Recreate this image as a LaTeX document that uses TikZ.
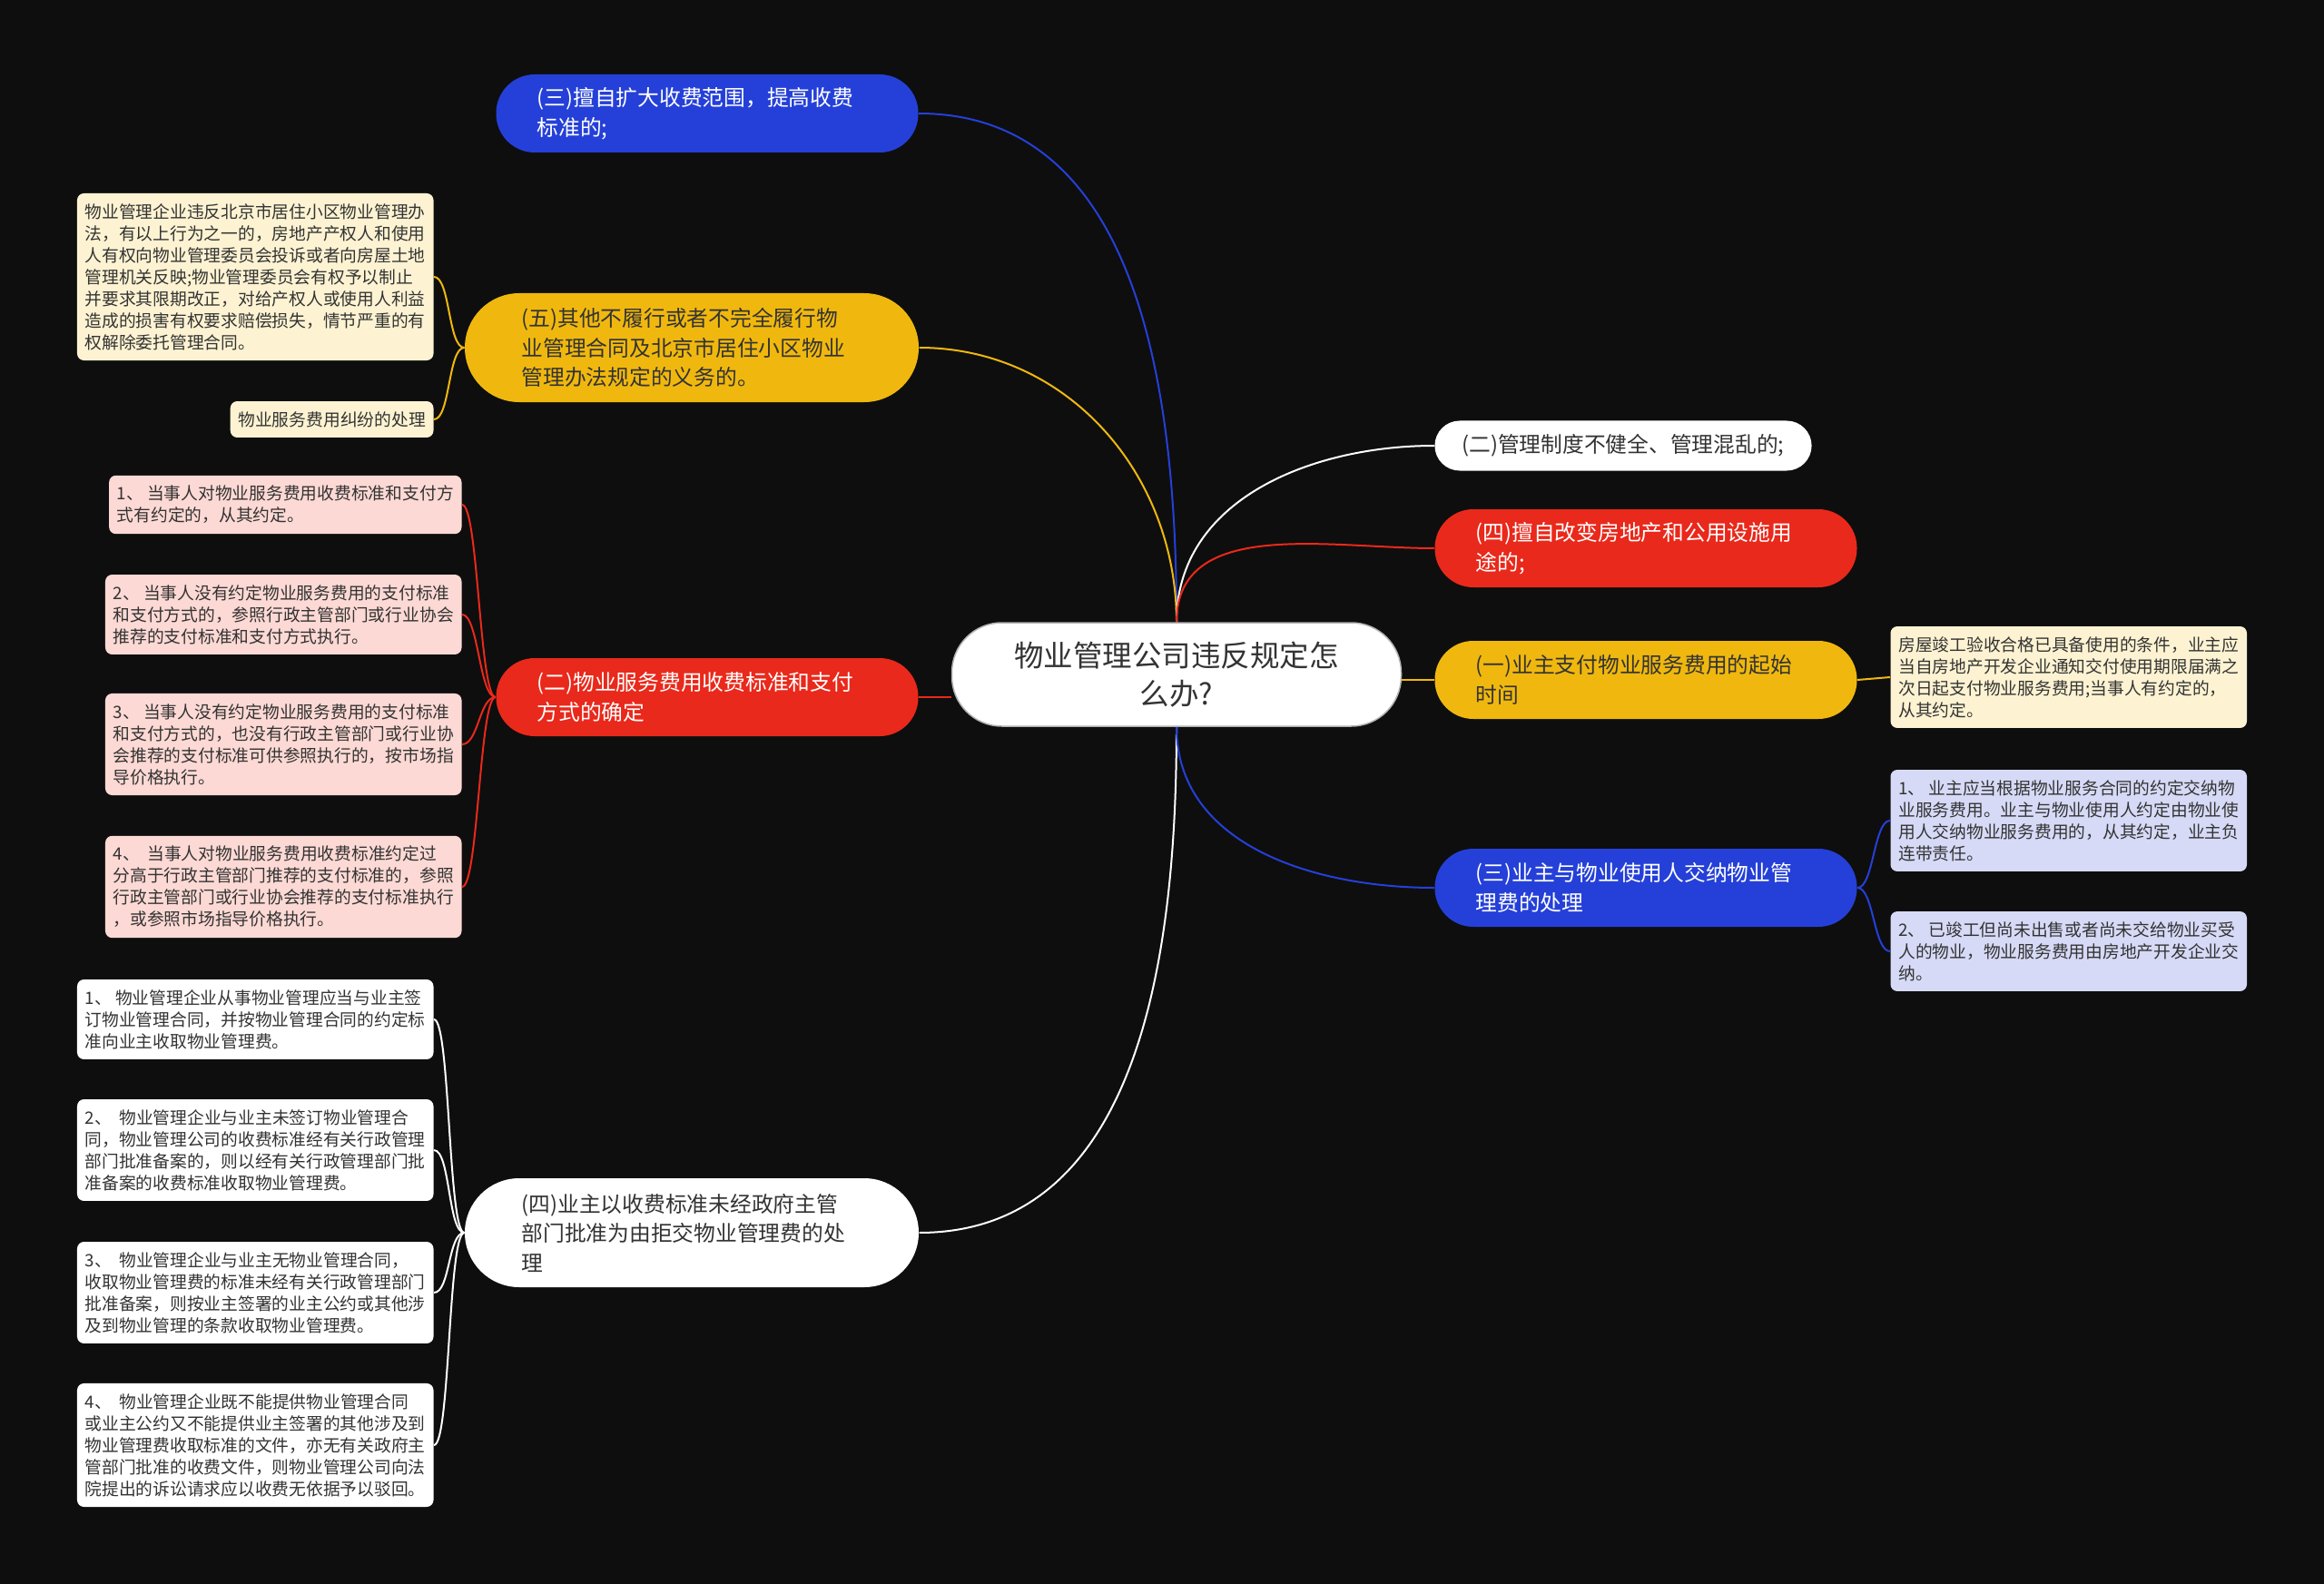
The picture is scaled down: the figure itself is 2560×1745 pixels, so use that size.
\documentclass[tikz,border=0pt]{standalone}
\usepackage{fontspec}
\setmainfont{Noto Sans CJK SC}
\usepackage{xcolor}

\definecolor{bgdark}{RGB}{14,14,14}
\definecolor{mblue}{RGB}{37,64,216}
\definecolor{myellow}{RGB}{240,184,14}
\definecolor{mred}{RGB}{233,41,27}
\definecolor{lcream}{RGB}{253,243,210}
\definecolor{lpink}{RGB}{252,217,212}
\definecolor{llav}{RGB}{214,218,246}
\definecolor{tdark}{RGB}{51,51,51}

\begin{document}
\begin{tikzpicture}[x=0.4pt, y=-0.4pt,
    rootnode/.style={fill=white, draw=gray!60, line width=0.6pt, rounded corners=22pt, minimum width=198pt, minimum height=45.6pt, align=center, text=tdark, font=\fontsize{13}{17}\selectfont},
    mainnode/.style={rounded corners=17pt, text width=150pt, align=left, inner xsep=18pt, minimum height=34.4pt, font=\fontsize{9.5}{13}\selectfont},
    tallnode/.style={mainnode, rounded corners=24pt, inner xsep=25pt, minimum height=48pt},
    leafnode/.style={rounded corners=3pt, align=left, inner xsep=3.5pt, inner ysep=4.5pt, text=tdark, font=\fontsize{7.5}{9.6}\selectfont},
    link/.style={line width=0.8pt}]

    \fill[bgdark] (0,0) rectangle (2560,1745);
    \useasboundingbox (0,0) rectangle (2560,1745);

    % centre
    \node[rootnode] (rootq) at (1296,743) {物业管理公司违反规定怎\\么办?};

    % left branches
    \node[mainnode, fill=mblue, text=white] (fee3) at (779,125) {(三)擅自扩大收费范围，提高收费\\标准的;};
    \node[tallnode, fill=myellow, text=tdark] (dut5) at (762,383) {(五)其他不履行或者不完全履行物\\业管理合同及北京市居住小区物业\\管理办法规定的义务的。};
    \node[mainnode, fill=mred, text=white] (std2) at (779,768) {(二)物业服务费用收费标准和支付\\方式的确定};
    \node[tallnode, fill=white, text=tdark] (ref4) at (762,1358) {(四)业主以收费标准未经政府主管\\部门批准为由拒交物业管理费的处\\理};

    % right branches
    \node[mainnode, text width=, inner xsep=12pt, minimum height=22pt, rounded corners=11pt, fill=white, text=tdark] (sys2) at (1788,491) {(二)管理制度不健全、管理混乱的;};
    \node[mainnode, fill=mred, text=white] (use4) at (1813,604) {(四)擅自改变房地产和公用设施用\\途的;};
    \node[mainnode, fill=myellow, text=tdark] (start1) at (1813,749) {(一)业主支付物业服务费用的起始\\时间};
    \node[mainnode, fill=mblue, text=white] (pay3) at (1813,978) {(三)业主与物业使用人交纳物业管\\理费的处理};

    % leaves of (五)
    \node[leafnode, fill=lcream, anchor=east] (lf5a) at (478,305) {物业管理企业违反北京市居住小区物业管理办\\法，有以上行为之一的，房地产产权人和使用\\人有权向物业管理委员会投诉或者向房屋土地\\管理机关反映;物业管理委员会有权予以制止\\并要求其限期改正，对给产权人或使用人利益\\造成的损害有权要求赔偿损失，情节严重的有\\权解除委托管理合同。};
    \node[leafnode, fill=lcream, anchor=east] (lf5b) at (478,462) {物业服务费用纠纷的处理};

    % leaves of (二) left
    \node[leafnode, fill=lpink, anchor=east] (rl1) at (509,556) {1、 当事人对物业服务费用收费标准和支付方\\式有约定的，从其约定。};
    \node[leafnode, fill=lpink, anchor=east] (rl2) at (509,677) {2、 当事人没有约定物业服务费用的支付标准\\和支付方式的，参照行政主管部门或行业协会\\推荐的支付标准和支付方式执行。};
    \node[leafnode, fill=lpink, anchor=east] (rl3) at (509,820) {3、 当事人没有约定物业服务费用的支付标准\\和支付方式的，也没有行政主管部门或行业协\\会推荐的支付标准可供参照执行的，按市场指\\导价格执行。};
    \node[leafnode, fill=lpink, anchor=east] (rl4) at (509,977) {4、 \ 当事人对物业服务费用收费标准约定过\\分高于行政主管部门推荐的支付标准的，参照\\行政主管部门或行业协会推荐的支付标准执行\\，或参照市场指导价格执行。};

    % leaves of (四) left
    \node[leafnode, fill=white, anchor=east] (wl1) at (478,1123) {1、 物业管理企业从事物业管理应当与业主签\\订物业管理合同，并按物业管理合同的约定标\\准向业主收取物业管理费。};
    \node[leafnode, fill=white, anchor=east] (wl2) at (478,1267) {2、 \ 物业管理企业与业主未签订物业管理合\\同，物业管理公司的收费标准经有关行政管理\\部门批准备案的，则以经有关行政管理部门批\\准备案的收费标准收取物业管理费。};
    \node[leafnode, fill=white, anchor=east] (wl3) at (478,1424) {3、 \ 物业管理企业与业主无物业管理合同，\\收取物业管理费的标准未经有关行政管理部门\\批准备案，则按业主签署的业主公约或其他涉\\及到物业管理的条款收取物业管理费。};
    \node[leafnode, fill=white, anchor=east] (wl4) at (478,1592) {4、 \ 物业管理企业既不能提供物业管理合同\\或业主公约又不能提供业主签署的其他涉及到\\物业管理费收取标准的文件，亦无有关政府主\\管部门批准的收费文件，则物业管理公司向法\\院提出的诉讼请求应以收费无依据予以驳回。};

    % leaves on the right
    \node[leafnode, fill=lcream, anchor=west] (yl1) at (2082,746) {房屋竣工验收合格已具备使用的条件，业主应\\当自房地产开发企业通知交付使用期限届满之\\次日起支付物业服务费用;当事人有约定的，\\从其约定。};
    \node[leafnode, fill=llav, anchor=west] (bl1) at (2082,904) {1、 业主应当根据物业服务合同的约定交纳物\\业服务费用。业主与物业使用人约定由物业使\\用人交纳物业服务费用的，从其约定，业主负\\连带责任。};
    \node[leafnode, fill=llav, anchor=west] (bl2) at (2082,1048) {2、 已竣工但尚未出售或者尚未交给物业买受\\人的物业，物业服务费用由房地产开发企业交\\纳。};

    % centre to branches
    \draw[link, mblue] (rootq.north) .. controls +(0,-246) and +(246,0) .. (fee3.east);
    \draw[link, myellow] (rootq.north) .. controls +(0,-163) and +(163,0) .. (dut5.east);
    \draw[link, mred] (std2.east) -- (std2.east -| rootq.west);
    \draw[link, white] (rootq.south) .. controls +(0,245) and +(245,0) .. (ref4.east);
    \draw[link, white] (rootq.north) .. controls +(0,-135) and +(-135,0) .. (sys2.west);
    \draw[link, mred] (rootq.north) .. controls +(0,-116) and +(-116,0) .. (use4.west);
    \draw[link, myellow] (start1.west) -- (start1.west -| rootq.east);
    \draw[link, mblue] (rootq.south) .. controls +(0,131) and +(-131,0) .. (pay3.west);

    % branches to leaves
    \foreach \lf in {lf5a,lf5b}
        \draw[link, myellow] (dut5.west) .. controls +(-18,0) and +(18,0) .. (\lf.east);
    \foreach \lf in {rl1,rl2,rl3,rl4}
        \draw[link, mred] (std2.west) .. controls +(-18,0) and +(18,0) .. (\lf.east);
    \foreach \lf in {wl1,wl2,wl3,wl4}
        \draw[link, white] (ref4.west) .. controls +(-18,0) and +(18,0) .. (\lf.east);
    \draw[link, myellow] (start1.east) -- (yl1.west);
    \foreach \lf in {bl1,bl2}
        \draw[link, mblue] (pay3.east) .. controls +(18,0) and +(-18,0) .. (\lf.west);
\end{tikzpicture}
\end{document}
